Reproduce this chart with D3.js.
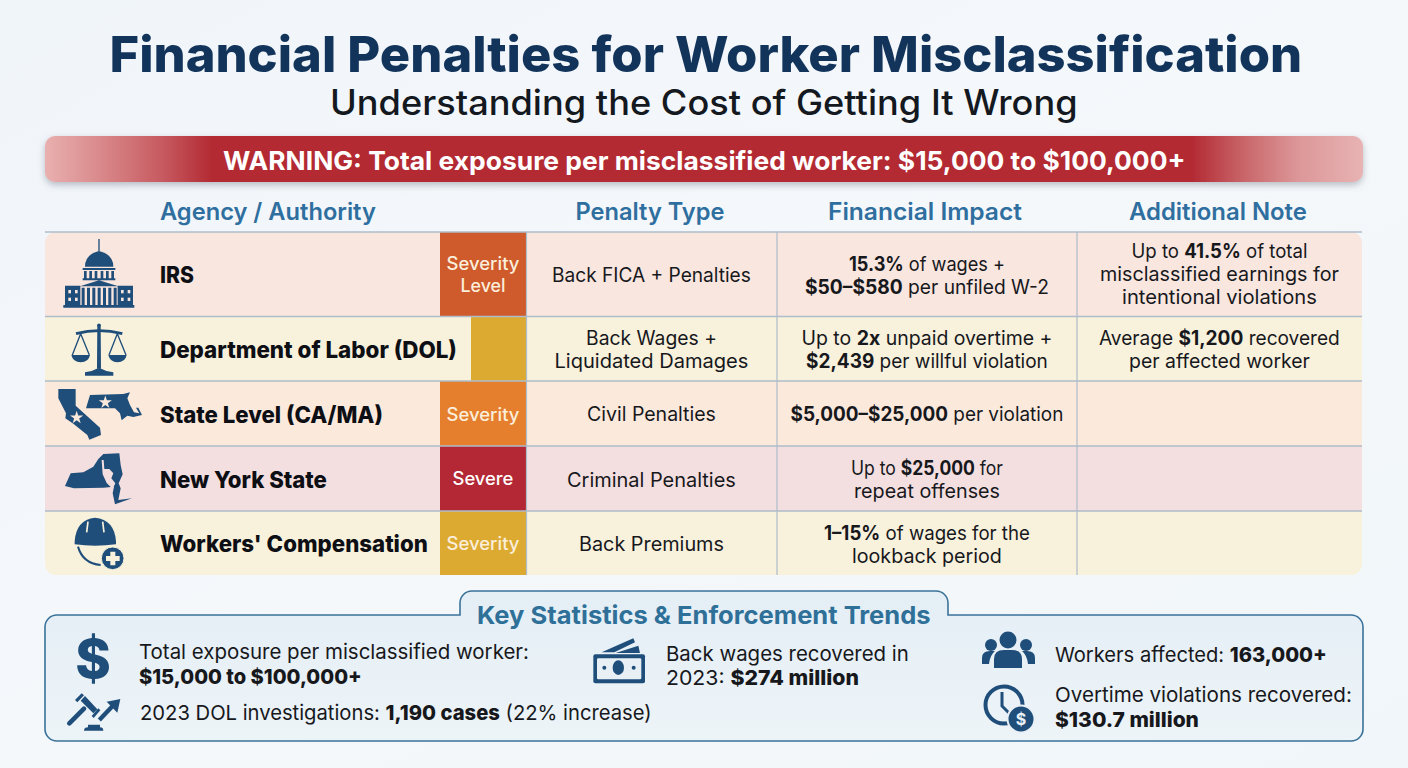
<!DOCTYPE html>
<html><head><meta charset="utf-8">
<script src="https://cdnjs.cloudflare.com/ajax/libs/d3/7.8.5/d3.min.js"></script>
<style>html,body{margin:0;padding:0;background:#f2f6fb;overflow:hidden}svg{display:block}text{font-family:Inter,"Noto Sans",sans-serif}</style>
</head><body><svg id="c" width="1408" height="768"></svg>
<script>
// ---- data ----
const titleText = "Financial Penalties for Worker Misclassification";
const subtitleText = "Understanding the Cost of Getting It Wrong";
const warningText = "WARNING: Total exposure per misclassified worker: $15,000 to $100,000+";
const columnHeaders = ["Agency / Authority","Penalty Type","Financial Impact","Additional Note"];
const agencies = ["IRS","Department of Labor (DOL)","State Level (CA/MA)","New York State","Workers' Compensation"];
const severityLabels = [["Severity","Level"],[],["Severity"],["Severe"],["Severity"]];
const penaltyTypes = [["Back FICA + Penalties"],["Back Wages +","Liquidated Damages"],["Civil Penalties"],["Criminal Penalties"],["Back Premiums"]];
const financialImpacts = [
 ["**15.3%** of wages +","**$50–$580** per unfiled W-2"],
 ["Up to **2x** unpaid overtime +","**$2,439** per willful violation"],
 ["**$5,000–$25,000** per violation"],
 ["Up to **$25,000** for","repeat offenses"],
 ["**1–15%** of wages for the","lookback period"]];
const additionalNotes = [
 ["Up to **41.5%** of total","misclassified earnings for","intentional violations"],
 ["Average **$1,200** recovered","per affected worker"],[],[],[]];
const statsTitle = "Key Statistics & Enforcement Trends";
const statLines = [
 "Total exposure per misclassified worker:","**$15,000 to $100,000+**",
 "2023 DOL investigations: **1,190 cases** (22% increase)",
 "Back wages recovered in","2023: **$274 million**",
 "Workers affected: **163,000+**","Overtime violations recovered:","**$130.7 million**"];

// ---- layout ----
const svg = d3.select("#c");
const rowEdges = [232,316.5,381,446,511,575];
const rowY = d3.scaleOrdinal(agencies, rowEdges.slice(0,5));
const rowH = a => rowEdges[agencies.indexOf(a)+1]-rowY(a);
const rowFill = d3.scaleOrdinal(agencies, ["#f8e6df","#f8f1dc","#fbe9dc","#f4dfe0","#f8f1dc"]);
const sevFill = d3.scaleOrdinal(agencies, ["#cf5b2c","#dcaa31","#e57f2e","#b42734","#dcaa31"]);
const sevLeft = d3.scaleOrdinal(agencies, [440,471,440,440,440]);
const penaltyW = [[199],[131,194],[129],[169],[145]];
const finW = [[156,244],[251,242],[273],[152,146],[206,150]];
const noteW = [[176,239,195],[241,181],[],[],[]];
const lineStep = 23;

const defs = svg.append("defs");
const bg = defs.append("linearGradient").attr("id","bg").attr("x1",0).attr("y1",0).attr("x2",1).attr("y2",1);
[[0,"#f0f5fa"],[.5,"#f5f8fb"],[1,"#f0f6f9"]].forEach(s=>bg.append("stop").attr("offset",s[0]).attr("stop-color",s[1]));
const bn = defs.append("linearGradient").attr("id","bn");
[[0,"#e9b0af"],[.04,"#da8b8d"],[.09,"#c6595f"],[.127,"#b32a33"],[.87,"#b32a33"],[.91,"#c9666a"],[.95,"#dc9698"],[1,"#e8b3b3"]].forEach(s=>bn.append("stop").attr("offset",s[0]).attr("stop-color",s[1]));
const pn = defs.append("linearGradient").attr("id","pn").attr("x1",0).attr("x2",0).attr("y1",0).attr("y2",1);
[[0,"#e4eef5"],[1,"#edf4f8"]].forEach(s=>pn.append("stop").attr("offset",s[0]).attr("stop-color",s[1]));
const sh = defs.append("filter").attr("id","sh").attr("x","-5%").attr("y","-30%").attr("width","110%").attr("height","170%");
sh.append("feDropShadow").attr("dx",0).attr("dy",3).attr("stdDeviation",3.5).attr("flood-color","#6b7480").attr("flood-opacity",.45);
defs.append("clipPath").attr("id","tbl").append("rect").attr("x",45).attr("y",232).attr("width",1317).attr("height",343).attr("rx",11);

svg.append("rect").attr("width",1408).attr("height",768).attr("fill","url(#bg)");

// text helper: **bold** markup; width = horizontal fit to the measured target
function put(g, str, opt){
  const t = g.append("text").attr("dy","0.36em").attr("font-size",opt.size)
    .attr("font-weight",opt.weight||500).attr("fill",opt.fill||"#17181c");
  str.split("**").forEach((p,i)=>{ if(p) t.append("tspan").attr("font-weight",i%2?(opt.bold||700):null).text(p); });
  const len = t.node().getComputedTextLength();
  const k = opt.width ? opt.width/len : 1;
  const x0 = opt.anchor==="middle" ? opt.x-(len*k)/2 : opt.x;
  t.attr("transform",`translate(${x0},${opt.y}) scale(${k},1)`);
  return t;
}
const head = svg.append("g");
put(head,titleText,{x:706,y:54,size:50,weight:800,fill:"#12345a",width:1193,anchor:"middle"});
put(head,subtitleText,{x:704,y:102,size:35,weight:500,fill:"#14181f",width:748,anchor:"middle"});
svg.append("rect").attr("x",45).attr("y",136).attr("width",1318).attr("height",46).attr("rx",10).attr("fill","url(#bn)").attr("filter","url(#sh)");
put(svg,warningText,{x:704.5,y:161,size:26,weight:700,fill:"#fff",width:963,anchor:"middle"});

const headerX = [268,650,925,1218], headerW=[216,149,194,178];
columnHeaders.forEach((h,i)=>put(svg,h,{x:headerX[i],y:211,size:24,weight:600,fill:"#2f6f9f",width:headerW[i],anchor:"middle"}));

// table
const tbl = svg.append("g").attr("clip-path","url(#tbl)");
tbl.selectAll("rect.row").data(agencies).join("rect").attr("class","row")
  .attr("x",45).attr("width",1317).attr("y",rowY).attr("height",rowH).attr("fill",rowFill);
tbl.selectAll("rect.sev").data(agencies).join("rect").attr("class","sev")
  .attr("x",sevLeft).attr("width",a=>526-sevLeft(a)).attr("y",rowY).attr("height",rowH).attr("fill",sevFill);
svg.selectAll("line.h").data(rowEdges.slice(0,5)).join("line").attr("class","h")
  .attr("x1",45).attr("x2",1362).attr("y1",d=>d).attr("y2",d=>d).attr("stroke","#aebdca").attr("stroke-width",1.5);
svg.selectAll("line.v").data([526.5,777,1077]).join("line").attr("class","v")
  .attr("x1",d=>d).attr("x2",d=>d).attr("y1",232).attr("y2",575).attr("stroke","#aebdca").attr("stroke-width",1.2);

const labelW=[34,297,223,167,268];
agencies.forEach((a,i)=>{
  const my = [275,350,415,480,544][i];
  put(svg,a,{x:160,y:my,size:23,weight:800,fill:"#0d0f14",width:labelW[i]});
  const sevY=[275,0,415,479,544][i];
  severityLabels[i].forEach((s,j,arr)=>put(svg,s,{x:483,y:sevY+(j-(arr.length-1)/2)*22,size:18,weight:500,fill:i===3?"#fff":"#fbeedb",anchor:"middle",width:s==="Severe"?61:(s==="Level"?45:73)}));
  const cen=[275,349.5,414,479.5,544][i];
  penaltyTypes[i].forEach((s,j,arr)=>put(svg,s,{x:651.5,y:cen+(j-(arr.length-1)/2)*lineStep,size:19.5,weight:400,width:penaltyW[i][j],anchor:"middle"}));
  financialImpacts[i].forEach((s,j,arr)=>put(svg,s,{x:927,y:cen+(j-(arr.length-1)/2)*lineStep,size:19.5,weight:400,width:finW[i][j],anchor:"middle"}));
  additionalNotes[i].forEach((s,j,arr)=>put(svg,s,{x:1219.5,y:cen-(i?0:1)+(j-(arr.length-1)/2)*lineStep,size:19.5,weight:400,width:noteW[i][j],anchor:"middle"}));
});

// icons drawn in zoom-grid units over the table
const NAVY="#1f4e7a";
const ic = svg.append("g").attr("transform","translate(40,225) scale(0.3333)").attr("fill",NAVY);
const P=(d,f)=>ic.append("path").attr("d",d).attr("fill",f||NAVY);
const cut="#f8e6df";
// capitol
P("M175,42h4v36h-4zM135,125Q135,88 177,78Q220,88 220,125ZM128,129h98v6h-98zM132,138h8v22h-8zM148,138h8v22h-8zM164,138h8v22h-8zM182,138h8v22h-8zM198,138h8v22h-8zM214,138h8v22h-8zM128,160h98v6h-98zM120,184L177,166L235,184ZM75,182h46v58h-46zM233,182h46v58h-46zM125,188h9v52h-9zM141,188h9v52h-9zM157,188h9v52h-9zM173,188h9v52h-9zM189,188h9v52h-9zM205,188h9v52h-9zM221,188h9v52h-9zM70,240h213v8h-213z");
[[85,195],[105,195],[85,218],[105,218],[243,195],[263,195],[243,218],[263,218]].forEach(d=>ic.append("rect").attr("x",d[0]).attr("y",d[1]).attr("width",8).attr("height",10).attr("fill",cut));
// scales
P("M172,305a6,6 0 1 1 10,0L183,430H171ZM135,452v-10q20,-2 42,-14q22,12 43,14v10Z");
ic.append("path").attr("d","M108,326Q177,308 247,326").attr("fill","none").attr("stroke",NAVY).attr("stroke-width",8);
ic.append("path").attr("d","M122,326L97,390M122,326L148,390M232,326L207,390M232,326L258,390").attr("fill","none").attr("stroke",NAVY).attr("stroke-width",4);
P("M94,390H150Q146,412 122,412Q99,412 94,390ZM205,390H260Q256,412 232,412Q210,412 205,390Z");
// helmet
P("M104,950Q108,884 165,878Q224,884 228,950L228,958Q165,966 104,958Z");
ic.append("path").attr("d","M144,890L140,922M188,890L192,922").attr("stroke","#f8f1dc").attr("stroke-width",5);
ic.append("path").attr("d","M114,965Q128,1015 182,1020").attr("fill","none").attr("stroke",NAVY).attr("stroke-width",6);
ic.append("circle").attr("cx",218).attr("cy",1000).attr("r",34).attr("fill",NAVY).attr("stroke","#f8f1dc").attr("stroke-width",3);
P("M211,980h15v13h13v15h-13v13h-15v-13h-13v-15h13z","#f8f1dc");

// state silhouettes
const st = svg.append("g").attr("transform","translate(50,385) scale(0.3333)").attr("fill",NAVY);
st.append("path").attr("d","M25,12L77,12L77,62L150,128L153,150L140,155L118,164L112,150L70,116L46,100L48,85L25,40Z");
st.append("path").attr("d","M120,30L220,27L240,22L232,40L240,60L252,82L268,85L258,68L265,68L276,90L250,96L232,92L215,106L210,85L195,70L108,70Z");
const star=d3.symbol().type(d3.symbolStar).size(480)();
[[80,98],[166,52]].forEach(d=>st.append("path").attr("d",star).attr("transform",`translate(${d[0]},${d[1]})`).attr("fill","#fbe9dc"));
st.append("path").attr("d","M45,303L62,265L100,262L130,245L145,222L160,207L208,205L212,240L218,268L206,295L212,310L205,345L246,340L195,358L188,325L192,305L160,308L72,310Z");
st.append("path").attr("d","M155,225L161,225L163,252L178,252L190,265L184,280L196,295L188,312L170,294L158,268Z").attr("fill","#f4dfe0");

// stats panel with tab
const pp = d3.path();
pp.moveTo(57,615); pp.lineTo(460,615); pp.lineTo(460,603); pp.arcTo(460,591,472,591,12); pp.lineTo(936,591);
pp.arcTo(948,591,948,603,12); pp.lineTo(948,615); pp.lineTo(1351,615); pp.arcTo(1363,615,1363,627,12);
pp.lineTo(1363,729); pp.arcTo(1363,741,1351,741,12); pp.lineTo(57,741); pp.arcTo(45,741,45,729,12);
pp.lineTo(45,627); pp.arcTo(45,615,57,615,12); pp.closePath();
svg.append("path").attr("d",pp.toString()).attr("fill","url(#pn)").attr("stroke","#3a7299").attr("stroke-width",1.6);
put(svg,statsTitle,{x:704,y:615,size:25,weight:700,fill:"#2f7099",width:454,anchor:"middle"});
const statX=[139,139,140,666,666,1055,1055,1055], statY=[652,677,713,654,678,655,695,720], statW=[390,223,512,243,193,272,297,144];
statLines.forEach((s,i)=>put(svg,s,{x:statX[i],y:statY[i],size:20.5,weight:400,width:statW[i],bold:800}));

// stat icons
const si = svg.append("g").attr("fill",NAVY);
si.append("text").attr("x",93).attr("y",678).attr("text-anchor","middle").attr("font-size",54).attr("font-weight",800).attr("fill",NAVY).text("$");
// gavel + arrow (crop grid)
const gv = svg.append("g").attr("transform","translate(60,630) scale(0.3333)").attr("fill",NAVY);
gv.append("path").attr("d","M28,280L72,236").attr("stroke",NAVY).attr("stroke-width",14).attr("stroke-linecap","round");
gv.append("path").attr("d","M62,212L75,198L112,238L100,250ZM45,210L65,190L72,196L52,217ZM95,258L115,235L121,241L101,264Z");
gv.append("path").attr("d","M72,302Q72,292 84,292V284H120V292Q130,292 130,302Z");
gv.append("path").attr("d","M118,270L160,226").attr("stroke",NAVY).attr("stroke-width",13);
gv.append("path").attr("d","M181,207L140,215L172,248Z");
// money (crop grid)
const mo = svg.append("g").attr("transform","translate(585,625) scale(0.3333)").attr("fill",NAVY);
mo.append("path").attr("d","M50,82L145,40L150,52L88,82ZM92,84L160,62L165,84Z");
mo.append("rect").attr("x",25).attr("y",88).attr("width",155).attr("height",87).attr("rx",6);
mo.append("rect").attr("x",36).attr("y",100).attr("width",133).attr("height",63).attr("rx",4).attr("fill","#e8f0f6");
mo.append("ellipse").attr("cx",100).attr("cy",128).attr("rx",17).attr("ry",22);
mo.append("circle").attr("cx",58).attr("cy",128).attr("r",6);
mo.append("circle").attr("cx",146).attr("cy",128).attr("r",6);
// people
[[991,645,6],[1026,645,6],[1008,640,8.5]].forEach(d=>si.append("circle").attr("cx",d[0]).attr("cy",d[1]).attr("r",d[2]));
si.append("path").attr("d","M982,664v-6q0,-7 8,-7h5q-5,4 -6,13ZM1035,664v-6q0,-7 -8,-7h-5q5,4 6,13ZM994,668v-9q0,-9 10,-9h8q10,0 10,9v9Z");
// clock + coin
si.append("circle").attr("cx",1004).attr("cy",705).attr("r",18.5).attr("fill","none").attr("stroke",NAVY).attr("stroke-width",4);
si.append("path").attr("d","M1002,692V706L1010,714").attr("fill","none").attr("stroke",NAVY).attr("stroke-width",3);
si.append("circle").attr("cx",1021).attr("cy",719).attr("r",13.5).attr("stroke","#e9f1f7").attr("stroke-width",2);
si.append("text").attr("x",1021).attr("y",725).attr("text-anchor","middle").attr("font-size",16).attr("font-weight",700).attr("fill","#e9f1f7").text("$");
</script></body></html>
